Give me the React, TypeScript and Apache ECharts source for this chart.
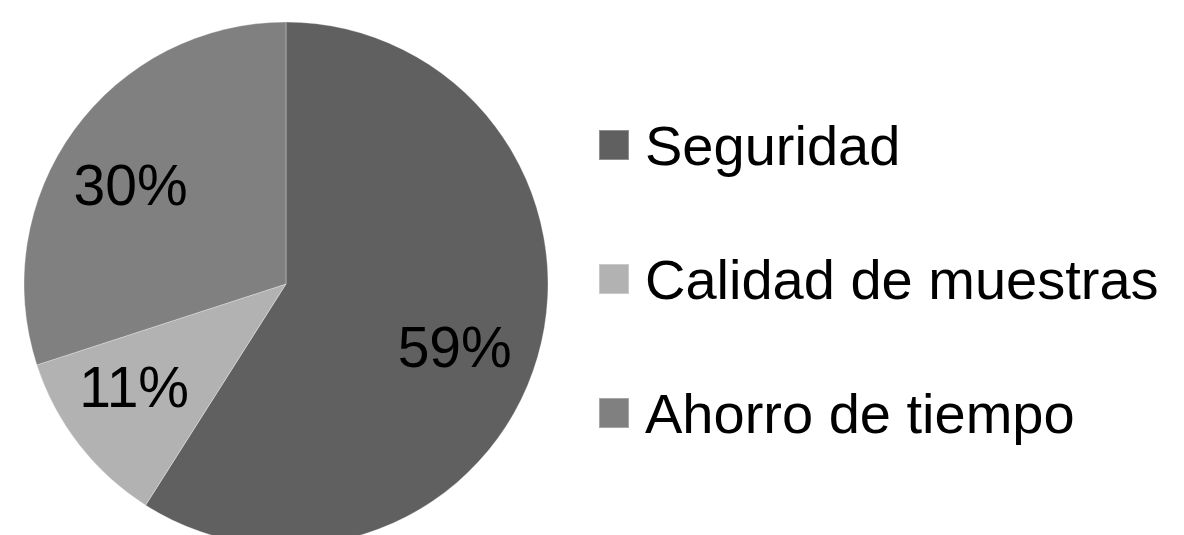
import React, { useEffect, useRef } from "react";
import * as echarts from "echarts";

const categories = ["Seguridad", "Calidad de muestras", "Ahorro de tiempo"];
const values = [59, 11, 30];
const colors = ["#606060", "#b2b2b2", "#808080"];
const labelShift: [number, number][] = [
  [40, 26],
  [-46, 21],
  [-47, -20],
];

export default function App() {
  const ref = useRef<HTMLDivElement>(null);
  useEffect(() => {
    if (!ref.current) return;
    const chart = echarts.init(ref.current, undefined, { renderer: "svg" });
    chart.setOption({
      animation: false,
      backgroundColor: "#ffffff",
      legend: {
        orient: "vertical",
        left: 593,
        top: 112,
        itemWidth: 30,
        itemHeight: 30,
        itemGap: 78,
        icon: "rect",
        data: categories,
        textStyle: {
          fontFamily: "Liberation Sans, Arial, sans-serif",
          fontSize: 56,
          color: "#000000",
          padding: [0, 0, 0, 11],
        },
      },
      series: [
        {
          type: "pie",
          center: [286, 284],
          radius: 262,
          startAngle: 90,
          clockwise: true,
          label: {
            show: true,
            position: "inside",
            formatter: (p: any) => `${p.value}%`,
            fontFamily: "Liberation Sans, Arial, sans-serif",
            fontSize: 57,
            color: "#000000",
          },
          labelLine: { show: false },
          labelLayout: (p: any) => ({
            dx: labelShift[p.dataIndex][0],
            dy: labelShift[p.dataIndex][1],
          }),
          itemStyle: {
            borderColor: "rgba(255,255,255,0.3)",
            borderWidth: 1,
          },
          emphasis: { disabled: true },
          data: categories.map((name, i) => ({
            name,
            value: values[i],
            itemStyle: { color: colors[i] },
          })),
        },
      ],
    });
    return () => chart.dispose();
  }, []);
  return (
    <div
      ref={ref}
      style={{ position: "fixed", left: 0, top: 0, width: 1184, height: 535 }}
    />
  );
}
